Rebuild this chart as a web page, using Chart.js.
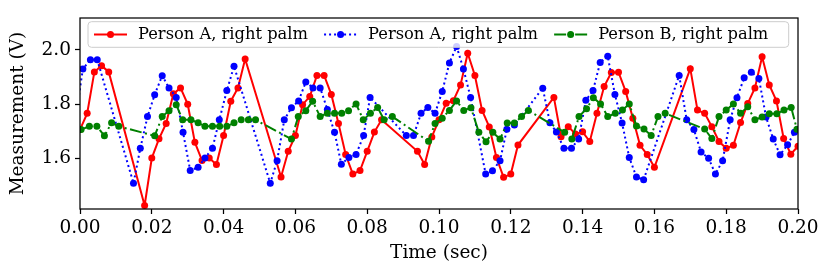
<!DOCTYPE html>
<html>
<head>
<meta charset="utf-8">
<script src="https://cdn.jsdelivr.net/npm/chart.js@4/dist/chart.umd.min.js"></script>
<style>
html,body{margin:0;padding:0;background:#fff;}
#wrap{width:831px;height:277px;}
</style>
</head>
<body>
<div id="wrap"><canvas id="c" width="831" height="277"></canvas></div>
<script>
const seriesLabels = ["Person A, right palm", "Person A, right palm", "Person B, right palm"];
const xTicks = [0.00,0.02,0.04,0.06,0.08,0.10,0.12,0.14,0.16,0.18,0.20];
const yTicks = [1.6,1.8,2.0];

const redTime = [0.000,0.002,0.004,0.006,0.008,0.018,0.020,0.022,0.024,0.026,0.028,0.030,0.032,0.034,0.036,0.038,0.040,0.042,0.044,0.046,0.056,0.058,0.060,0.062,0.064,0.066,0.068,0.070,0.072,0.074,0.076,0.078,0.080,0.082,0.084,0.094,0.096,0.098,0.100,0.102,0.104,0.106,0.108,0.110,0.112,0.114,0.116,0.118,0.120,0.122,0.132,0.134,0.136,0.138,0.140,0.142,0.144,0.146,0.148,0.150,0.152,0.154,0.156,0.158,0.160,0.170,0.172,0.174,0.176,0.178,0.180,0.182,0.184,0.186,0.188,0.190,0.192,0.194,0.196,0.198,0.200];
const redValues = [1.706,1.766,1.919,1.942,1.919,1.426,1.601,1.672,1.729,1.838,1.860,1.800,1.659,1.592,1.601,1.577,1.684,1.811,1.860,1.967,1.531,1.626,1.684,1.798,1.828,1.906,1.906,1.836,1.729,1.614,1.542,1.555,1.626,1.697,1.742,1.626,1.577,1.679,1.742,1.803,1.813,1.871,1.988,1.906,1.777,1.716,1.603,1.530,1.542,1.649,1.825,1.680,1.717,1.690,1.698,1.662,1.766,1.865,1.917,1.918,1.847,1.748,1.648,1.614,1.567,1.931,1.778,1.766,1.717,1.662,1.637,1.648,1.732,1.802,1.860,1.975,1.871,1.812,1.673,1.615,1.645];

const blueTime = [-0.0011,0.0008,0.0029,0.0048,0.0149,0.0168,0.0188,0.0208,0.0229,0.0248,0.0268,0.0287,0.0307,0.0329,0.0348,0.0369,0.0388,0.0409,0.0429,0.0530,0.0549,0.0569,0.0589,0.0609,0.0629,0.0649,0.0669,0.0689,0.0709,0.0728,0.0749,0.0769,0.0790,0.0808,0.0909,0.0929,0.0950,0.0969,0.0989,0.1009,0.1029,0.1049,0.1068,0.1088,0.1130,0.1149,0.1170,0.1189,0.1210,0.1289,0.1309,0.1327,0.1348,0.1369,0.1389,0.1409,0.1429,0.1449,0.1470,0.1490,0.1510,0.1530,0.1550,0.1570,0.1669,0.1690,0.1710,0.1730,0.1751,0.1770,0.1790,0.1811,0.1830,0.1850,0.1870,0.1891,0.1911,0.1931,0.1950,0.1971,0.1990];
const blueValues = [1.76,1.930,1.964,1.964,1.508,1.637,1.754,1.835,1.905,1.860,1.825,1.696,1.555,1.567,1.601,1.637,1.742,1.850,1.940,1.508,1.591,1.742,1.787,1.812,1.882,1.860,1.860,1.780,1.696,1.578,1.603,1.614,1.684,1.825,1.684,1.684,1.766,1.788,1.766,1.847,1.952,2.013,1.930,1.825,1.542,1.554,1.591,1.707,1.723,1.859,1.731,1.697,1.637,1.637,1.671,1.814,1.850,1.954,1.977,1.836,1.730,1.603,1.531,1.521,1.906,1.742,1.706,1.623,1.600,1.542,1.591,1.742,1.824,1.897,1.918,1.895,1.753,1.671,1.613,1.650,1.696];

const greenTime = [0.0003,0.0026,0.0047,0.0068,0.0088,0.0108,0.0208,0.0229,0.0248,0.0268,0.0286,0.0309,0.0329,0.0348,0.0369,0.0389,0.0409,0.0429,0.0449,0.0469,0.0489,0.0589,0.0608,0.0629,0.0648,0.0669,0.0689,0.0709,0.0729,0.0748,0.0769,0.0789,0.0809,0.0829,0.0847,0.0870,0.0971,0.0989,0.1009,0.1029,0.1049,0.1069,0.1089,0.1111,0.1131,0.1150,0.1170,0.1190,0.1210,0.1230,0.1249,0.1350,0.1370,0.1390,0.1411,0.1430,0.1450,0.1470,0.1491,0.1511,0.1530,0.1550,0.1571,0.1591,0.1610,0.1630,0.1740,0.1760,0.1780,0.1800,0.1820,0.1840,0.1860,0.1880,0.1900,0.1920,0.1941,0.1961,0.1981,0.1997];
const greenValues = [1.706,1.718,1.718,1.683,1.731,1.718,1.683,1.754,1.776,1.798,1.742,1.742,1.731,1.718,1.718,1.718,1.718,1.731,1.742,1.742,1.742,1.671,1.754,1.776,1.811,1.754,1.766,1.766,1.766,1.776,1.801,1.742,1.766,1.788,1.742,1.754,1.663,1.729,1.748,1.777,1.812,1.777,1.787,1.696,1.661,1.696,1.671,1.730,1.730,1.754,1.777,1.696,1.671,1.754,1.783,1.824,1.801,1.754,1.766,1.778,1.801,1.719,1.708,1.684,1.754,1.766,1.708,1.673,1.754,1.778,1.801,1.766,1.790,1.742,1.753,1.765,1.765,1.778,1.788,1.707];

const pts = (xs, ys) => xs.map((x, i) => ({x: x, y: ys[i]}));
const FONT = "'DejaVu Serif', serif";

const styles = [
  {color: '#ff0000', dash: []},
  {color: '#0000ff', dash: [2, 3]},
  {color: '#008000', dash: [12, 3.5, 2, 3.5]}
];

const framePlugin = {
  id: 'frameAndLegend',
  afterDatasetsDraw(chart) {
    const ctx = chart.ctx, a = chart.chartArea;
    ctx.save();
    ctx.strokeStyle = '#000';
    ctx.lineWidth = 1.25;
    ctx.setLineDash([]);
    ctx.strokeRect(a.left, a.top, a.right - a.left, a.bottom - a.top);

    const x0 = a.left + 8, x1 = a.right - 9.3, y0 = a.top + 3.7, y1 = a.top + 29.3, r = 3.5;
    ctx.beginPath();
    ctx.moveTo(x0 + r, y0);
    ctx.lineTo(x1 - r, y0); ctx.quadraticCurveTo(x1, y0, x1, y0 + r);
    ctx.lineTo(x1, y1 - r); ctx.quadraticCurveTo(x1, y1, x1 - r, y1);
    ctx.lineTo(x0 + r, y1); ctx.quadraticCurveTo(x0, y1, x0, y1 - r);
    ctx.lineTo(x0, y0 + r); ctx.quadraticCurveTo(x0, y0, x0 + r, y0);
    ctx.closePath();
    ctx.fillStyle = 'rgba(255,255,255,0.8)';
    ctx.fill();
    ctx.strokeStyle = 'rgba(204,204,204,1)';
    ctx.lineWidth = 1;
    ctx.stroke();

    const cy = (y0 + y1) / 2;
    const colW = (x1 - x0 - 12) / 3 + 0.5;
    chart.data.datasets.forEach((ds, i) => {
      const hx = x0 + 6 + i * colW;
      ctx.strokeStyle = ds.borderColor;
      ctx.lineWidth = ds.borderWidth;
      ctx.setLineDash(ds.borderDash || []);
      ctx.beginPath();
      ctx.moveTo(hx, cy); ctx.lineTo(hx + 33, cy);
      ctx.stroke();
      ctx.setLineDash([]);
      ctx.fillStyle = ds.borderColor;
      ctx.beginPath();
      ctx.arc(hx + 16.5, cy, 3.5, 0, Math.PI * 2);
      ctx.fill();
      ctx.fillStyle = '#000';
      ctx.font = "16.3px " + FONT;
      ctx.textAlign = 'left';
      ctx.textBaseline = 'middle';
      ctx.fillText(ds.label, hx + 44, cy + 0.5);
    });
    ctx.restore();
  }
};

const datasets = [pts(redTime, redValues), pts(blueTime, blueValues), pts(greenTime, greenValues)].map((d, i) => ({
  label: seriesLabels[i],
  data: d,
  order: 3 - i,
  borderColor: styles[i].color,
  backgroundColor: styles[i].color,
  pointBackgroundColor: styles[i].color,
  pointBorderWidth: 0,
  pointRadius: 3.5,
  pointHoverRadius: 3.5,
  borderWidth: 2,
  borderDash: styles[i].dash,
  tension: 0,
  fill: false,
  clip: 0
}));

new Chart(document.getElementById('c'), {
  type: 'line',
  data: {datasets: datasets},
  plugins: [framePlugin],
  options: {
    responsive: false,
    animation: false,
    events: [],
    layout: {padding: {top: 18, right: 33, left: 0, bottom: 0}},
    plugins: {legend: {display: false}, tooltip: {enabled: false}},
    scales: {
      x: {
        type: 'linear',
        min: 0, max: 0.2,
        afterBuildTicks: ax => { ax.ticks = xTicks.map(v => ({value: v})); },
        afterFit: ax => { ax.height = 68; },
        grid: {drawOnChartArea: false, drawTicks: true, tickLength: 5, tickColor: '#000', tickWidth: 1.25},
        border: {display: false},
        ticks: {color: '#000', font: {family: FONT, size: 18.5}, padding: 3, maxRotation: 0, autoSkip: false,
                callback: v => Number(v).toFixed(2)},
        title: {display: true, text: 'Time (sec)', color: '#000', font: {family: FONT, size: 18.5}, padding: {top: 0, bottom: 13}}
      },
      y: {
        type: 'linear',
        min: 1.413, max: 2.118,
        afterBuildTicks: ax => { ax.ticks = yTicks.map(v => ({value: v})); },
        afterFit: ax => { ax.width = 80; },
        grid: {drawOnChartArea: false, drawTicks: true, tickLength: 5, tickColor: '#000', tickWidth: 1.25},
        border: {display: false},
        ticks: {color: '#000', font: {family: FONT, size: 18.5}, padding: 4,
                callback: v => Number(v).toFixed(1)},
        title: {display: true, text: 'Measurement (V)', color: '#000', font: {family: FONT, size: 18.5}, padding: {top: 7, bottom: 0}}
      }
    }
  }
});
</script>
</body>
</html>
